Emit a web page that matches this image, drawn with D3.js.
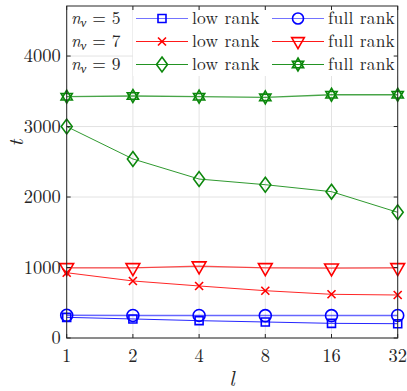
<!DOCTYPE html>
<html><head><meta charset="utf-8">
<script src="https://cdn.jsdelivr.net/npm/d3@7"></script>
<style>body{margin:0;background:#fff}svg{display:block}svg text{font-family:'Latin Modern Roman','Liberation Serif',serif}</style>
</head><body>
<script>
const lValues = [1, 2, 4, 8, 16, 32];
const yTicks = [0, 1000, 2000, 3000, 4000];
const nu5Low  = [293, 270, 246, 227, 208, 203];
const nu5Full = [322, 320, 320, 318, 318, 320];
const nu7Low  = [926, 809, 738, 671, 620, 610];
const nu7Full = [995, 995, 1020, 995, 990, 995];
const nu9Low  = [3000, 2540, 2255, 2175, 2076, 1783];
const nu9Full = [3423, 3433, 3423, 3414, 3451, 3451];
const nuLabels = ["5", "7", "9"];
const kindLabels = ["low rank", "full rank"];

const FS = 18.5, LFS = 17.5;
const W = 407, H = 391;
const m = {l: 66.7, r: 397.7, t: 6, b: 338};
const svg = d3.select("body").append("svg").attr("width", W).attr("height", H);
const x = d3.scaleLog().base(2).domain([1, 32]).range([m.l, m.r]);
const y = d3.scaleLinear().domain([0, 4710]).range([m.b, m.t]);

// grid
const g = svg.append("g");
g.selectAll(".gx").data(lValues).enter().append("line")
  .attr("x1", d => x(d)).attr("x2", d => x(d)).attr("y1", m.t).attr("y2", m.b)
  .attr("stroke", "#e3e3e3").attr("stroke-width", 1);
g.selectAll(".gy").data(yTicks).enter().append("line")
  .attr("y1", d => y(d)).attr("y2", d => y(d)).attr("x1", m.l).attr("x2", m.r)
  .attr("stroke", "#e3e3e3").attr("stroke-width", 1);

// legend background (covers grid)
svg.append("rect").attr("x", 133).attr("y", 10).attr("width", m.r - 133).attr("height", 66).attr("fill", "#fff");

const colors = {b: "#0000ff", r: "#ff0000", g: "#0b870b"};

function markerPath(type, s) {
  if (type === "square") return `M${-s},${-s}H${s}V${s}H${-s}Z`;
  if (type === "circle") return d3.symbol(d3.symbolCircle, Math.PI * s * s)();
  if (type === "tri") { return `M${-s*1.15},${-s*0.7}H${s*1.15}L0,${s*1.3}Z`; }
  if (type === "diamond") return `M0,${-s*1.35}L${s},0L0,${s*1.35}L${-s},0Z`;
  if (type === "x") return `M${-s},${-s}L${s},${s}M${-s},${s}L${s},${-s}`;
  if (type === "hex") {
    const r = s;
    const t1 = [0,1,2].map(i => { const a = -Math.PI/2 + i*2*Math.PI/3; return [r*Math.cos(a), r*Math.sin(a)]; });
    const t2 = [0,1,2].map(i => { const a = Math.PI/2 + i*2*Math.PI/3; return [r*Math.cos(a), r*Math.sin(a)]; });
    return "M" + t1.map(p => p.join(",")).join("L") + "Z" + "M" + t2.map(p => p.join(",")).join("L") + "Z";
  }
}

const series = [
  {vals: nu9Full, c: colors.g, m: "hex", s: 6.5, op: 0.75, w: 1.3},
  {vals: nu9Low, c: colors.g, m: "diamond", s: 5.5, op: 0.85, w: 1},
  {vals: nu7Full, c: colors.r, m: "tri", s: 6, op: 0.7, w: 1.3},
  {vals: nu7Low, c: colors.r, m: "x", s: 4, op: 0.85, w: 1},
  {vals: nu5Full, c: colors.b, m: "circle", s: 6, op: 0.6, w: 1.5},
  {vals: nu5Low, c: colors.b, m: "square", s: 4, op: 0.85, w: 1},
];
const line = d3.line().x((d, i) => x(lValues[i])).y(d => y(d));
series.forEach(sr => {
  svg.append("path").attr("d", line(sr.vals)).attr("fill", "none")
    .attr("stroke", sr.c).attr("stroke-opacity", sr.op).attr("stroke-width", sr.w);
  svg.selectAll(null).data(sr.vals).enter().append("path")
    .attr("transform", (d, i) => `translate(${x(lValues[i])},${y(d)})`)
    .attr("d", markerPath(sr.m, sr.s)).attr("fill", "none")
    .attr("stroke", sr.c).attr("stroke-width", 1.6);
});

// axes box
const ax = svg.append("g");
ax.append("rect").attr("x", m.l).attr("y", m.t).attr("width", m.r - m.l).attr("height", m.b - m.t)
  .attr("fill", "none").attr("stroke", "#262626").attr("stroke-width", 1);
const tl = 4;
lValues.forEach(v => {
  ax.append("line").attr("x1", x(v)).attr("x2", x(v)).attr("y1", m.b).attr("y2", m.b - tl).attr("stroke", "#262626");
  ax.append("line").attr("x1", x(v)).attr("x2", x(v)).attr("y1", m.t).attr("y2", m.t + tl).attr("stroke", "#262626");
  ax.append("text").attr("x", x(v)).attr("y", m.b + 24).attr("text-anchor", "middle")
    .style("font-size", FS + "px").attr("fill", "#262626").text(v);
});
yTicks.forEach(v => {
  ax.append("line").attr("y1", y(v)).attr("y2", y(v)).attr("x1", m.l).attr("x2", m.l + tl).attr("stroke", "#262626");
  ax.append("line").attr("y1", y(v)).attr("y2", y(v)).attr("x1", m.r).attr("x2", m.r - tl).attr("stroke", "#262626");
  ax.append("text").attr("x", m.l - 6).attr("y", y(v) + 6).attr("text-anchor", "end")
    .style("font-size", FS + "px").attr("fill", "#262626").text(v);
});
svg.append("text").attr("x", 232).attr("y", 386).attr("text-anchor", "middle")
  .style("font-size", "21px").style("font-style", "italic").attr("fill", "#262626").text("l");
svg.append("text").attr("transform", "translate(23,143) rotate(-90)").attr("text-anchor", "middle")
  .style("font-size", "21px").style("font-style", "italic").attr("fill", "#262626").text("t");

// legend
const legRows = [
  {lab: nuLabels[0], c: colors.b, m1: "square", s1: 4, m2: "circle", s2: 5.5, op: 0.55},
  {lab: nuLabels[1], c: colors.r, m1: "x", s1: 4, m2: "tri", s2: 5.5, op: 0.9},
  {lab: nuLabels[2], c: colors.g, m1: "diamond", s1: 5.5, m2: "hex", s2: 6.5, op: 0.9},
];
const rowY = [18.5, 41.5, 64.5];
legRows.forEach((r, i) => {
  const yy = rowY[i];
  const t = svg.append("text").attr("x", 71).attr("y", yy + 5.5).style("font-size", LFS + "px").attr("fill", "#262626");
  t.append("tspan").style("font-style", "italic").text("n");
  t.append("tspan").style("font-style", "italic").style("font-size", "12.5px").attr("dy", 2.5).text("ν");
  t.append("tspan").attr("dy", -2.5).style("white-space", "pre").text(" = " + r.lab);
  [[136, 188, 162, r.m1, r.s1, 192, kindLabels[0]], [272, 324, 298, r.m2, r.s2, 328, kindLabels[1]]].forEach(cfg => {
    svg.append("line").attr("x1", cfg[0]).attr("x2", cfg[1]).attr("y1", yy).attr("y2", yy)
      .attr("stroke", r.c).attr("stroke-opacity", r.op).attr("stroke-width", 1.2);
    svg.append("path").attr("transform", `translate(${cfg[2]},${yy})`).attr("d", markerPath(cfg[3], cfg[4]))
      .attr("fill", "none").attr("stroke", r.c).attr("stroke-width", 1.6);
    svg.append("text").attr("x", cfg[5]).attr("y", yy + 5.5).style("font-size", LFS + "px")
      .style("letter-spacing", "0.2px").attr("fill", "#262626").text(cfg[6]);
  });
});
</script>
</body></html>
